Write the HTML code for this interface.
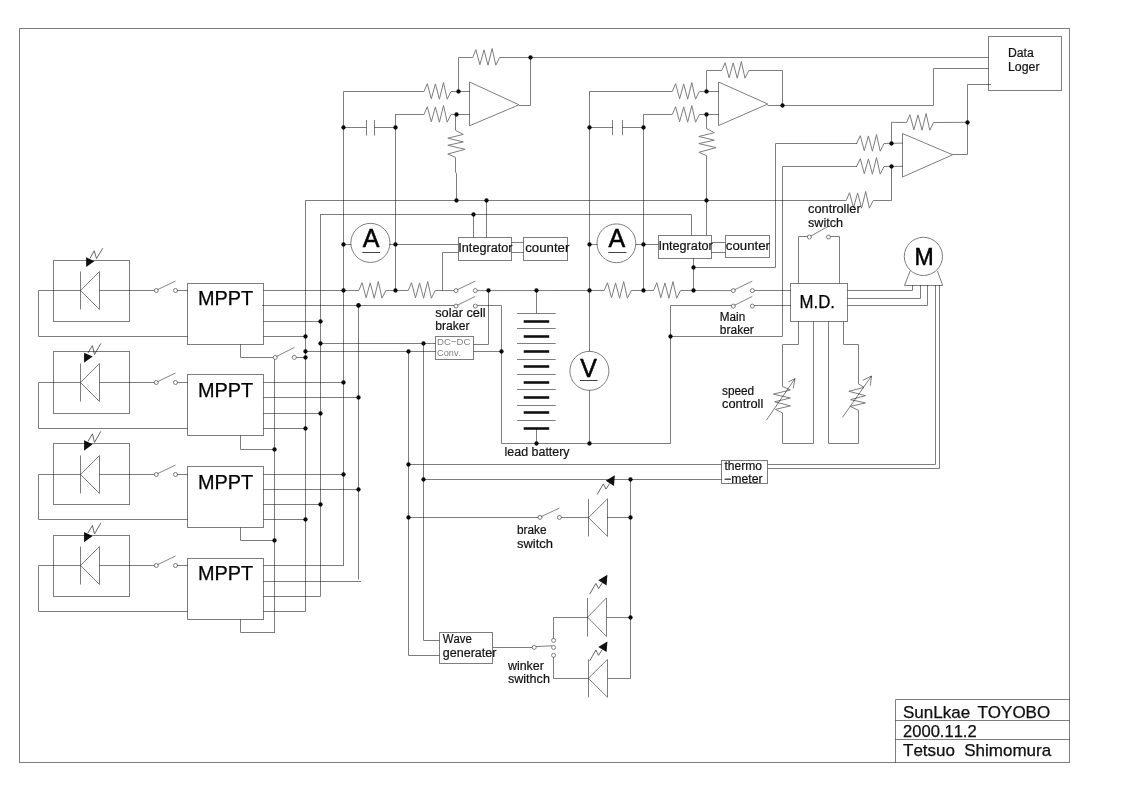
<!DOCTYPE html>
<html lang="en"><head><meta charset="utf-8"><title>SunLkae TOYOBO circuit diagram</title>
<style>html,body{margin:0;padding:0;background:#fff}svg{display:block;will-change:transform}g.w>*{mix-blend-mode:multiply}text{font-kerning:none}</style></head>
<body>
<svg width="1140" height="807" viewBox="0 0 1140 807">
<g class="w" fill="none" stroke="#7d7d7d" stroke-width="1">
<rect x="19.5" y="28.5" width="1050" height="734"/>
<polyline points="895.5,762.5 895.5,699.5 1069.5,699.5"/>
<line x1="895.5" y1="720.5" x2="1069.5" y2="720.5"/>
<line x1="895.5" y1="739.5" x2="1069.5" y2="739.5"/>
<rect x="988.5" y="36.5" width="73" height="54"/>
<rect x="53.5" y="260.5" width="76" height="61"/>
<polyline points="80.3,290.5 38.5,290.5 38.5,336.5 187.6,336.5"/>
<line x1="80.5" y1="271.5" x2="80.5" y2="309.5"/>
<polygon points="80.5,290.5 99.5,271.5 99.5,309.5"/>
<line x1="99.5" y1="290.5" x2="154.3" y2="290.5"/>
<circle cx="156.3" cy="290.5" r="2" fill="#fff" stroke="#6e6e6e" stroke-width="0.9"/>
<circle cx="175.5" cy="290.5" r="2" fill="#fff" stroke="#6e6e6e" stroke-width="0.9"/>
<line x1="157.5" y1="289.7" x2="175.5" y2="281" stroke="#6e6e6e" stroke-width="0.85"/>
<line x1="177.5" y1="290.5" x2="187.6" y2="290.5"/>
<polygon points="86.1,257.2 94.4,261.2 86.1,267.1" fill="#111" stroke="none"/>
<polyline points="90.1,258.2 94.2,250.8 96.5,258.6 102.8,248.2" stroke="#555" stroke-width="0.9"/>
<rect x="187.5" y="283.5" width="76" height="61"/>
<line x1="263.5" y1="290.5" x2="343.7" y2="290.5"/>
<line x1="262" y1="305.5" x2="359" y2="305.5"/>
<line x1="263.5" y1="321.5" x2="320.5" y2="321.5"/>
<line x1="263.5" y1="336.5" x2="305.4" y2="336.5"/>
<polyline points="240.5,344.5 240.5,357.5 273.2,357.5"/>
<rect x="53.5" y="351.5" width="76" height="62"/>
<polyline points="80.3,382.5 38.5,382.5 38.5,428.5 187.6,428.5"/>
<line x1="80.5" y1="363.5" x2="80.5" y2="401.5"/>
<polygon points="80.5,382.5 99.5,363.5 99.5,401.5"/>
<line x1="99.5" y1="382.5" x2="154.3" y2="382.5"/>
<circle cx="156.3" cy="382.5" r="2" fill="#fff" stroke="#6e6e6e" stroke-width="0.9"/>
<circle cx="175.5" cy="382.5" r="2" fill="#fff" stroke="#6e6e6e" stroke-width="0.9"/>
<line x1="157.5" y1="381.7" x2="175.5" y2="373" stroke="#6e6e6e" stroke-width="0.85"/>
<line x1="177.5" y1="382.5" x2="187.6" y2="382.5"/>
<polygon points="84.05,352.7 92.6,356.6 84.05,362.7" fill="#111" stroke="none"/>
<polyline points="87.9,353 92.4,345.6 94.5,354.5 100.9,343.4" stroke="#555" stroke-width="0.9"/>
<rect x="187.5" y="374.5" width="76" height="61"/>
<line x1="263.5" y1="382.5" x2="343.7" y2="382.5"/>
<line x1="263.5" y1="397.5" x2="359" y2="397.5"/>
<line x1="263.5" y1="413.5" x2="320.5" y2="413.5"/>
<line x1="263.5" y1="428.5" x2="305.4" y2="428.5"/>
<polyline points="240.5,435.5 240.5,449.5 275,449.5"/>
<rect x="53.5" y="443.5" width="76" height="61"/>
<polyline points="80.3,474.5 38.5,474.5 38.5,519.5 187.6,519.5"/>
<line x1="80.5" y1="455.5" x2="80.5" y2="493.5"/>
<polygon points="80.5,474.5 99.5,455.5 99.5,493.5"/>
<line x1="99.5" y1="474.5" x2="154.3" y2="474.5"/>
<circle cx="156.3" cy="474.5" r="2" fill="#fff" stroke="#6e6e6e" stroke-width="0.9"/>
<circle cx="175.5" cy="474.5" r="2" fill="#fff" stroke="#6e6e6e" stroke-width="0.9"/>
<line x1="157.5" y1="473.7" x2="175.5" y2="465" stroke="#6e6e6e" stroke-width="0.85"/>
<line x1="177.5" y1="474.5" x2="187.6" y2="474.5"/>
<polygon points="84.05,440.2 92.6,444.3 84.05,450.8" fill="#111" stroke="none"/>
<polyline points="87.9,441.5 92.4,433.9 94.5,442.4 100.9,431.3" stroke="#555" stroke-width="0.9"/>
<rect x="187.5" y="466.5" width="76" height="61"/>
<line x1="263.5" y1="474.5" x2="343.7" y2="474.5"/>
<line x1="263.5" y1="489.5" x2="359" y2="489.5"/>
<line x1="263.5" y1="504.5" x2="320.5" y2="504.5"/>
<line x1="263.5" y1="519.5" x2="305.4" y2="519.5"/>
<polyline points="240.5,527.5 240.5,540.5 275,540.5"/>
<rect x="53.5" y="535.5" width="76" height="61"/>
<polyline points="80.3,565.5 38.5,565.5 38.5,611.5 187.6,611.5"/>
<line x1="80.5" y1="546.5" x2="80.5" y2="584.5"/>
<polygon points="80.5,565.5 99.5,546.5 99.5,584.5"/>
<line x1="99.5" y1="565.5" x2="154.3" y2="565.5"/>
<circle cx="156.3" cy="565.5" r="2" fill="#fff" stroke="#6e6e6e" stroke-width="0.9"/>
<circle cx="175.5" cy="565.5" r="2" fill="#fff" stroke="#6e6e6e" stroke-width="0.9"/>
<line x1="157.5" y1="564.7" x2="175.5" y2="556" stroke="#6e6e6e" stroke-width="0.85"/>
<line x1="177.5" y1="565.5" x2="187.6" y2="565.5"/>
<polygon points="84.05,532.1 92.6,536.1 84.05,542.3" fill="#111" stroke="none"/>
<polyline points="87.9,533 92.4,525.5 94.5,533.9 100.9,522.9" stroke="#555" stroke-width="0.9"/>
<rect x="187.5" y="558.5" width="76" height="61"/>
<line x1="263.5" y1="565.5" x2="343.7" y2="565.5"/>
<line x1="263.5" y1="581.5" x2="361" y2="581.5"/>
<line x1="263.5" y1="596.5" x2="320.5" y2="596.5"/>
<line x1="263.5" y1="611.5" x2="305.4" y2="611.5"/>
<polyline points="240.5,619.5 240.5,632.5 275,632.5"/>
<line x1="274.5" y1="359.4" x2="274.5" y2="632.3"/>
<line x1="305.5" y1="200.5" x2="305.5" y2="611.6"/>
<line x1="320.5" y1="214.3" x2="320.5" y2="596.2"/>
<line x1="343.5" y1="91.5" x2="343.5" y2="565.5"/>
<line x1="358.5" y1="305.5" x2="358.5" y2="579.5"/>
<circle cx="275.2" cy="357.4" r="2" fill="#fff" stroke="#6e6e6e" stroke-width="0.9"/>
<circle cx="294.3" cy="357.4" r="2" fill="#fff" stroke="#6e6e6e" stroke-width="0.9"/>
<line x1="276.4" y1="356.6" x2="294.3" y2="347.4" stroke="#6e6e6e" stroke-width="0.85"/>
<line x1="296.3" y1="357.5" x2="305.4" y2="357.5"/>
<line x1="320.5" y1="343.5" x2="435.5" y2="343.5"/>
<line x1="305.4" y1="351.5" x2="435.5" y2="351.5"/>
<rect x="435.5" y="336.5" width="38" height="23"/>
<polyline points="473.5,344.5 488.5,344.5 488.5,290.6"/>
<line x1="473.5" y1="351.5" x2="502" y2="351.5"/>
<polyline points="305.4,200.5 846.2,200.5 849.5,192.7 853.5,207.8 857.6,192.9 861.6,208.2 865.7,191.5 869.4,208.2 873.2,200.5 891.5,200.5"/>
<line x1="891.5" y1="200.5" x2="891.5" y2="166.3"/>
<polyline points="320.5,214.5 691.5,214.5 691.5,235.4"/>
<line x1="473.5" y1="214.3" x2="473.5" y2="237.1"/>
<line x1="486.5" y1="200.5" x2="486.5" y2="237.1"/>
<polyline points="343.7,290.6 358.8,290.5 362.1,282.7 366.1,297.8 370.2,282.9 374.2,298.2 378.3,281.5 382,298.2 385.8,290.5 408.2,290.5 411.5,282.7 415.5,297.8 419.6,282.9 423.6,298.2 427.7,281.5 431.4,298.2 435.2,290.5 454,290.6"/>
<circle cx="456" cy="290.6" r="2" fill="#fff" stroke="#6e6e6e" stroke-width="0.9"/>
<circle cx="475.3" cy="290.6" r="2" fill="#fff" stroke="#6e6e6e" stroke-width="0.9"/>
<line x1="457.2" y1="289.8" x2="475.3" y2="281.1" stroke="#6e6e6e" stroke-width="0.85"/>
<polyline points="477.3,290.6 604.2,290.5 607.5,282.7 611.5,297.8 615.6,282.9 619.6,298.2 623.7,281.5 627.4,298.2 631.2,290.5 653.5,290.5 656.8,282.7 660.8,297.8 664.9,282.9 668.9,298.2 673,281.5 676.7,298.2 680.5,290.5 731.3,290.6"/>
<circle cx="733.3" cy="290.6" r="2" fill="#fff" stroke="#6e6e6e" stroke-width="0.9"/>
<circle cx="752.3" cy="290.6" r="2" fill="#fff" stroke="#6e6e6e" stroke-width="0.9"/>
<line x1="734.5" y1="289.8" x2="752.3" y2="281.1" stroke="#6e6e6e" stroke-width="0.85"/>
<line x1="754.3" y1="290.5" x2="790.5" y2="290.5"/>
<line x1="359" y1="305.5" x2="454" y2="305.5"/>
<circle cx="456" cy="306.1" r="2" fill="#fff" stroke="#6e6e6e" stroke-width="0.9"/>
<circle cx="475.3" cy="306.1" r="2" fill="#fff" stroke="#6e6e6e" stroke-width="0.9"/>
<line x1="457.2" y1="305.3" x2="475.3" y2="296.4" stroke="#6e6e6e" stroke-width="0.85"/>
<polyline points="477.3,305.5 501.5,305.5 501.5,443.5 670.5,443.5 670.5,305.5 731.3,305.5"/>
<circle cx="733.3" cy="306.1" r="2" fill="#fff" stroke="#6e6e6e" stroke-width="0.9"/>
<circle cx="752.3" cy="306.1" r="2" fill="#fff" stroke="#6e6e6e" stroke-width="0.9"/>
<line x1="734.5" y1="305.3" x2="752.3" y2="296.4" stroke="#6e6e6e" stroke-width="0.85"/>
<line x1="754.3" y1="305.5" x2="790.5" y2="305.5"/>
<polyline points="670.6,336.5 782.5,336.5 782.5,166.5 857,166.5"/>
<line x1="395.5" y1="114.5" x2="395.5" y2="290.6"/>
<circle cx="370.4" cy="242.9" r="19.55" fill="#fff"/>
<line x1="343.7" y1="244.5" x2="351" y2="244.5"/>
<line x1="389.4" y1="244.5" x2="458.4" y2="244.5"/>
<line x1="362.3" y1="252.5" x2="380" y2="252.5" stroke="#444"/>
<polyline points="442.5,290.6 442.5,252.5 458.4,252.5"/>
<rect x="458.5" y="237.5" width="53" height="23"/>
<rect x="523.5" y="237.5" width="44" height="23"/>
<line x1="511.7" y1="242.5" x2="523.5" y2="242.5"/>
<line x1="511.7" y1="252.5" x2="523.5" y2="252.5"/>
<polygon points="469.5,82 469.5,125.8 519,104.8"/>
<polyline points="343.7,91.5 424,91.5 427.3,83.7 431.3,98.8 435.4,83.9 439.4,99.2 443.5,82.5 447.2,99.2 451,91.5 469.6,91.5"/>
<polyline points="395.2,114.5 424,114.5 427.3,106.7 431.3,121.8 435.4,106.9 439.4,122.2 443.5,105.5 447.2,122.2 451,114.5 469.6,114.5"/>
<polyline points="458.5,91.5 458.5,57.5 472.6,57.5 475.9,49.7 479.9,64.8 484,49.9 488,65.2 492.1,48.5 495.8,65.2 499.6,57.5 988.5,57.5"/>
<polyline points="519,105.5 530.5,105.5 530.5,57.5"/>
<polyline points="455.5,114.5 455.5,130.3 463.3,134.4 447.8,138.2 463.3,141.9 447.8,145.3 465.1,149.3 447.8,154 455.5,157.4 455.5,172 456.5,173.5 456.5,200.5"/>
<line x1="343.7" y1="127.5" x2="366.3" y2="127.5"/>
<line x1="374.5" y1="127.5" x2="395.2" y2="127.5"/>
<line x1="366.5" y1="120" x2="366.5" y2="135.5"/>
<line x1="374.5" y1="120" x2="374.5" y2="135.5"/>
<line x1="589.5" y1="91.5" x2="589.5" y2="351.5"/>
<line x1="589.5" y1="390.1" x2="589.5" y2="443.3"/>
<line x1="643.5" y1="114.5" x2="643.5" y2="290.6"/>
<polygon points="718.5,82 718.5,125.6 767.8,104"/>
<polyline points="589.6,91.5 672.3,91.5 675.6,83.7 679.6,98.8 683.7,83.9 687.7,99.2 691.8,82.5 695.5,99.2 699.3,91.5 718.6,91.5"/>
<polyline points="643.5,114.5 672.3,114.5 675.6,106.7 679.6,121.8 683.7,106.9 687.7,122.2 691.8,105.5 695.5,122.2 699.3,114.5 718.6,114.5"/>
<polyline points="706.5,91.5 706.5,70.5 721.8,70.5 725.1,62.7 729.1,77.8 733.2,62.9 737.2,78.2 741.3,61.5 745,78.2 748.8,70.5 782.5,70.5 782.5,105.5"/>
<polyline points="767.5,105.5 933.5,105.5 933.5,68.5 988.5,68.5"/>
<polyline points="706.5,114.5 706.5,128.6 714.3,132.7 698.8,136.5 714.3,140.2 698.8,143.6 716.1,147.6 698.8,152.3 706.5,155.7 706.5,235.4"/>
<line x1="589.6" y1="127.5" x2="612.8" y2="127.5"/>
<line x1="622.5" y1="127.5" x2="643.5" y2="127.5"/>
<line x1="612.5" y1="120" x2="612.5" y2="135.2"/>
<line x1="622.5" y1="120" x2="622.5" y2="135.2"/>
<circle cx="616.4" cy="243.3" r="19.4" fill="#fff"/>
<line x1="589.6" y1="244.5" x2="597.3" y2="244.5"/>
<line x1="635.9" y1="244.5" x2="658.5" y2="244.5"/>
<line x1="608.3" y1="252.5" x2="626.5" y2="252.5" stroke="#444"/>
<rect x="658.5" y="235.5" width="53" height="23"/>
<rect x="725.5" y="235.5" width="44" height="22"/>
<line x1="711.6" y1="242.5" x2="725.3" y2="242.5"/>
<line x1="711.6" y1="252.5" x2="725.3" y2="252.5"/>
<line x1="693.5" y1="258.2" x2="693.5" y2="290.6"/>
<polyline points="693.3,267.5 775.5,267.5 775.5,143.5 857,143.5"/>
<circle cx="589.4" cy="370.85" r="19.5" fill="#fff"/>
<line x1="580" y1="380.5" x2="597.6" y2="380.5" stroke="#444"/>
<polygon points="902.5,133.5 902.5,177 952.6,154.8"/>
<polyline points="856.5,143.1 856.5,143.5 860.3,135.7 864.3,150.8 868.4,135.9 872.4,151.2 876.5,134.5 880.2,151.2 884,143.5 902.5,143.1"/>
<polyline points="856.5,166.3 856.5,166.5 860.3,158.7 864.3,173.8 868.4,158.9 872.4,174.2 876.5,157.5 880.2,174.2 884,166.5 902.5,166.3"/>
<polyline points="891.5,143.1 891.5,122.3 906.6,122.5 909.9,114.7 913.9,129.8 918,114.9 922,130.2 926.1,113.5 929.8,130.2 933.6,122.5 967.8,122.3"/>
<polyline points="952.6,154.5 967.5,154.5 967.5,84.5 991,84.5"/>
<line x1="536.5" y1="290.6" x2="536.5" y2="313.2"/>
<line x1="517" y1="313.5" x2="555.7" y2="313.5"/>
<line x1="523.7" y1="321.5" x2="549.2" y2="321.5" stroke="#111" stroke-width="2.6"/>
<line x1="517" y1="328.5" x2="555.7" y2="328.5"/>
<line x1="523.7" y1="336.5" x2="549.2" y2="336.5" stroke="#111" stroke-width="2.6"/>
<line x1="517" y1="343.5" x2="555.7" y2="343.5"/>
<line x1="523.7" y1="351.5" x2="549.2" y2="351.5" stroke="#111" stroke-width="2.6"/>
<line x1="517" y1="359.5" x2="555.7" y2="359.5"/>
<line x1="523.7" y1="366.5" x2="549.2" y2="366.5" stroke="#111" stroke-width="2.6"/>
<line x1="517" y1="374.5" x2="555.7" y2="374.5"/>
<line x1="523.7" y1="382.5" x2="549.2" y2="382.5" stroke="#111" stroke-width="2.6"/>
<line x1="517" y1="389.5" x2="555.7" y2="389.5"/>
<line x1="523.7" y1="397.5" x2="549.2" y2="397.5" stroke="#111" stroke-width="2.6"/>
<line x1="517" y1="405.5" x2="555.7" y2="405.5"/>
<line x1="523.7" y1="412.5" x2="549.2" y2="412.5" stroke="#111" stroke-width="2.6"/>
<line x1="517" y1="420.5" x2="555.7" y2="420.5"/>
<line x1="523.7" y1="428.5" x2="549.2" y2="428.5" stroke="#111" stroke-width="2.6"/>
<line x1="536.5" y1="428.2" x2="536.5" y2="443.3"/>
<rect x="790.5" y="283.5" width="57" height="38"/>
<circle cx="923.4" cy="256.4" r="19.1" fill="#fff"/>
<polyline points="910.1,271 904.5,285.5 942.7,285.5 937.4,271"/>
<polyline points="847.6,290.5 912.5,290.5 912.5,285.1"/>
<polyline points="847.6,298.5 920.5,298.5 920.5,285.1"/>
<polyline points="847.6,305.5 927.5,305.5 927.5,285.1"/>
<polyline points="935.5,285.1 935.5,464.5 767.7,464.5"/>
<polyline points="939.5,285.1 939.5,468.5 767.7,468.5"/>
<circle cx="809.4" cy="237" r="2" fill="#fff" stroke="#6e6e6e" stroke-width="0.9"/>
<circle cx="828.5" cy="237" r="2" fill="#fff" stroke="#6e6e6e" stroke-width="0.9"/>
<line x1="810.6" y1="236.2" x2="828.5" y2="226.2" stroke="#6e6e6e" stroke-width="0.85"/>
<polyline points="807.4,236.5 798.5,236.5 798.5,283.2"/>
<polyline points="830.5,236.5 839.5,236.5 839.5,283.2"/>
<polyline points="798.5,321.6 798.5,344.5 782.5,344.5 782.5,386.5 790.4,390 773.3,394.1 790.4,398 774.6,401.8 790.4,405.9 775.4,409.4 782.5,412.9 782.5,443.5 813.5,443.5 813.5,321.6"/>
<polyline points="843.5,321.6 843.5,344.5 858.5,344.5 858.5,383.9 864,387.4 848.8,391.3 865.5,395.7 850.5,399.7 865.5,402.9 850.2,406.4 858.5,410.3 858.5,443.5 828.5,443.5 828.5,321.6"/>
<line x1="766.3" y1="420.3" x2="795" y2="378.6"/>
<polyline points="788.5,381.8 795,378.6 793.2,388.3"/>
<line x1="842.5" y1="417.3" x2="871.5" y2="376"/>
<polyline points="862.7,380.4 871.5,376 870.3,385.6"/>
<rect x="721.5" y="460.5" width="46" height="23"/>
<polyline points="408.5,351.4 408.5,655.5 439.3,655.5"/>
<polyline points="423.5,343.9 423.5,640.5 439.3,640.5"/>
<line x1="408.5" y1="464.5" x2="721.6" y2="464.5"/>
<line x1="423.5" y1="479.5" x2="721.6" y2="479.5"/>
<line x1="408.5" y1="517.5" x2="538" y2="517.5"/>
<circle cx="540" cy="517.4" r="2" fill="#fff" stroke="#6e6e6e" stroke-width="0.9"/>
<circle cx="559.4" cy="517.4" r="2" fill="#fff" stroke="#6e6e6e" stroke-width="0.9"/>
<line x1="541.2" y1="516.6" x2="559.4" y2="508.1" stroke="#6e6e6e" stroke-width="0.85"/>
<line x1="561.4" y1="517.5" x2="588.5" y2="517.5"/>
<line x1="630.5" y1="479.6" x2="630.5" y2="678.2"/>
<line x1="588.5" y1="498.8" x2="588.5" y2="536.4"/>
<polygon points="588.5,517.6 607.5,498.8 607.5,536.4"/>
<line x1="607.1" y1="517.5" x2="630.5" y2="517.5"/>
<line x1="587.5" y1="597.9" x2="587.5" y2="636.5"/>
<polygon points="587.6,617.2 606.5,597.9 606.5,636.5"/>
<line x1="606.8" y1="617.5" x2="630.5" y2="617.5"/>
<line x1="588.5" y1="659.3" x2="588.5" y2="697.3"/>
<polygon points="588.4,678.3 607.5,659.3 607.5,697.3"/>
<line x1="607.7" y1="678.5" x2="630.5" y2="678.5"/>
<polygon points="614.8,475.3 614,485.9 605.7,480.8" fill="#111" stroke="none"/>
<polyline points="597.1,494.6 603.3,483.9 606,489.1 609.5,483.6" stroke="#555" stroke-width="0.9"/>
<polygon points="607.4,574.8 606.6,585.4 598.3,580.3" fill="#111" stroke="none"/>
<polyline points="589.7,594.1 595.9,583.4 598.6,588.6 602.1,583.1" stroke="#555" stroke-width="0.9"/>
<polygon points="607.4,641.5 606.6,652.1 598.3,647" fill="#111" stroke="none"/>
<polyline points="589.7,660.8 595.9,650.1 598.6,655.3 602.1,649.8" stroke="#555" stroke-width="0.9"/>
<rect x="439.5" y="632.5" width="53" height="31"/>
<line x1="492.9" y1="647.5" x2="532.2" y2="647.5"/>
<circle cx="534.2" cy="647.4" r="2" fill="#fff"/>
<line x1="536.2" y1="646.6" x2="552" y2="645.8"/>
<circle cx="553.6" cy="640.4" r="2" fill="#fff"/>
<circle cx="553.6" cy="647.4" r="2" fill="#fff"/>
<circle cx="553.6" cy="655.3" r="2" fill="#fff"/>
<polyline points="553.5,638.4 553.5,617.5 587.6,617.5"/>
<polyline points="553.5,657.3 553.5,678.5 588.4,678.5"/>
</g>
<g fill="#0a0a0a" stroke="none">
<circle cx="358.5" cy="305.5" r="2.15"/>
<circle cx="320.5" cy="321.5" r="2.15"/>
<circle cx="305.5" cy="336.5" r="2.15"/>
<circle cx="343.5" cy="382.5" r="2.15"/>
<circle cx="358.5" cy="397.5" r="2.15"/>
<circle cx="320.5" cy="413.5" r="2.15"/>
<circle cx="305.5" cy="428.5" r="2.15"/>
<circle cx="274.5" cy="449.5" r="2.15"/>
<circle cx="343.5" cy="474.5" r="2.15"/>
<circle cx="358.5" cy="489.5" r="2.15"/>
<circle cx="320.5" cy="504.5" r="2.15"/>
<circle cx="305.5" cy="519.5" r="2.15"/>
<circle cx="274.5" cy="540.5" r="2.15"/>
<circle cx="358.5" cy="305.5" r="2.15"/>
<circle cx="305.5" cy="357.5" r="2.15"/>
<circle cx="320.5" cy="343.5" r="2.15"/>
<circle cx="423.5" cy="343.5" r="2.15"/>
<circle cx="305.5" cy="351.5" r="2.15"/>
<circle cx="408.5" cy="351.5" r="2.15"/>
<circle cx="501.5" cy="351.5" r="2.15"/>
<circle cx="456.5" cy="200.5" r="2.15"/>
<circle cx="486.5" cy="200.5" r="2.15"/>
<circle cx="706.5" cy="200.5" r="2.15"/>
<circle cx="473.5" cy="214.5" r="2.15"/>
<circle cx="343.5" cy="290.5" r="2.15"/>
<circle cx="395.5" cy="290.5" r="2.15"/>
<circle cx="488.5" cy="290.5" r="2.15"/>
<circle cx="536.5" cy="290.5" r="2.15"/>
<circle cx="589.5" cy="290.5" r="2.15"/>
<circle cx="643.5" cy="290.5" r="2.15"/>
<circle cx="693.5" cy="290.5" r="2.15"/>
<circle cx="670.5" cy="336.5" r="2.15"/>
<circle cx="536.5" cy="443.5" r="2.15"/>
<circle cx="589.5" cy="443.5" r="2.15"/>
<circle cx="343.5" cy="244.5" r="2.15"/>
<circle cx="395.5" cy="244.5" r="2.15"/>
<circle cx="458.5" cy="91.5" r="2.15"/>
<circle cx="456.5" cy="114.5" r="2.15"/>
<circle cx="530.5" cy="57.5" r="2.15"/>
<circle cx="343.5" cy="127.5" r="2.15"/>
<circle cx="395.5" cy="127.5" r="2.15"/>
<circle cx="706.5" cy="91.5" r="2.15"/>
<circle cx="706.5" cy="114.5" r="2.15"/>
<circle cx="782.5" cy="105.5" r="2.15"/>
<circle cx="589.5" cy="127.5" r="2.15"/>
<circle cx="643.5" cy="127.5" r="2.15"/>
<circle cx="589.5" cy="244.5" r="2.15"/>
<circle cx="643.5" cy="244.5" r="2.15"/>
<circle cx="693.5" cy="267.5" r="2.15"/>
<circle cx="891.5" cy="143.5" r="2.15"/>
<circle cx="891.5" cy="166.5" r="2.15"/>
<circle cx="967.5" cy="122.5" r="2.15"/>
<circle cx="408.5" cy="464.5" r="2.15"/>
<circle cx="423.5" cy="479.5" r="2.15"/>
<circle cx="630.5" cy="479.5" r="2.15"/>
<circle cx="408.5" cy="517.5" r="2.15"/>
<circle cx="630.5" cy="517.5" r="2.15"/>
<circle cx="630.5" cy="617.5" r="2.15"/>
</g>
<g font-family="'Liberation Sans', sans-serif" fill="#111">
<text x="903" y="718.1" font-size="17" stroke="#000" stroke-width="0.25" word-spacing="2.6">SunLkae TOYOBO</text>
<text x="903" y="736.7" font-size="17" textLength="73.7" lengthAdjust="spacingAndGlyphs" stroke="#000" stroke-width="0.25">2000.11.2</text>
<text x="903" y="755.9" font-size="17" stroke="#000" stroke-width="0.25" word-spacing="4.5">Tetsuo Shimomura</text>
<text x="1008" y="56.9" font-size="12" textLength="25.8" lengthAdjust="spacingAndGlyphs" stroke="#111" stroke-width="0.2">Data</text>
<text x="1008" y="70.6" font-size="12" textLength="31.5" lengthAdjust="spacingAndGlyphs" stroke="#111" stroke-width="0.2">Loger</text>
<text x="198" y="304.6" font-size="19.5" textLength="55.2" lengthAdjust="spacingAndGlyphs" fill="#000" stroke="#000" stroke-width="0.25">MPPT</text>
<text x="198" y="396.6" font-size="19.5" textLength="55.2" lengthAdjust="spacingAndGlyphs" fill="#000" stroke="#000" stroke-width="0.25">MPPT</text>
<text x="198" y="488.6" font-size="19.5" textLength="55.2" lengthAdjust="spacingAndGlyphs" fill="#000" stroke="#000" stroke-width="0.25">MPPT</text>
<text x="198" y="579.6" font-size="19.5" textLength="55.2" lengthAdjust="spacingAndGlyphs" fill="#000" stroke="#000" stroke-width="0.25">MPPT</text>
<text x="437.1" y="345.1" font-size="9.3" textLength="33.2" lengthAdjust="spacingAndGlyphs" fill="#808080">DC−DC</text>
<text x="437.1" y="356.2" font-size="9.3" textLength="24" lengthAdjust="spacingAndGlyphs" fill="#808080">Conv.</text>
<text x="371" y="247.2" font-size="25" text-anchor="middle" fill="#000" stroke="#000" stroke-width="0.5">A</text>
<text x="458.3" y="251.9" font-size="12" textLength="54.3" lengthAdjust="spacingAndGlyphs" stroke="#111" stroke-width="0.2">Integrator</text>
<text x="525.2" y="251.9" font-size="12" textLength="44.2" lengthAdjust="spacingAndGlyphs" stroke="#111" stroke-width="0.2">counter</text>
<text x="616.9" y="247.2" font-size="25" text-anchor="middle" fill="#000" stroke="#000" stroke-width="0.5">A</text>
<text x="658.4" y="250.1" font-size="12" textLength="54.3" lengthAdjust="spacingAndGlyphs" stroke="#111" stroke-width="0.2">Integrator</text>
<text x="725.8" y="250.1" font-size="12" textLength="44.2" lengthAdjust="spacingAndGlyphs" stroke="#111" stroke-width="0.2">counter</text>
<text x="588.6" y="377.1" font-size="25" text-anchor="middle" fill="#000" stroke="#000" stroke-width="0.5">V</text>
<text x="504.6" y="455.9" font-size="12" textLength="65" lengthAdjust="spacingAndGlyphs" stroke="#111" stroke-width="0.2">lead battery</text>
<text x="435.2" y="316.5" font-size="12" textLength="50.5" lengthAdjust="spacingAndGlyphs" stroke="#111" stroke-width="0.2">solar cell</text>
<text x="435.2" y="329.7" font-size="12" textLength="34.3" lengthAdjust="spacingAndGlyphs" stroke="#111" stroke-width="0.2">braker</text>
<text x="719.8" y="320.6" font-size="12" textLength="25.4" lengthAdjust="spacingAndGlyphs" stroke="#111" stroke-width="0.2">Main</text>
<text x="719.8" y="333.9" font-size="12" textLength="34" lengthAdjust="spacingAndGlyphs" stroke="#111" stroke-width="0.2">braker</text>
<text x="799.6" y="307.9" font-size="18" textLength="35.4" lengthAdjust="spacingAndGlyphs" fill="#000" stroke="#000" stroke-width="0.25">M.D.</text>
<text x="914.4" y="264.6" font-size="24.3" textLength="19.2" lengthAdjust="spacingAndGlyphs" fill="#000" stroke="#000" stroke-width="0.5">M</text>
<text x="808" y="213.2" font-size="12" textLength="52.7" lengthAdjust="spacingAndGlyphs" stroke="#111" stroke-width="0.2">controller</text>
<text x="808" y="226.7" font-size="12" textLength="35" lengthAdjust="spacingAndGlyphs" stroke="#111" stroke-width="0.2">switch</text>
<text x="722" y="395.1" font-size="12" textLength="32.2" lengthAdjust="spacingAndGlyphs" stroke="#111" stroke-width="0.2">speed</text>
<text x="722" y="407.9" font-size="12" textLength="41.3" lengthAdjust="spacingAndGlyphs" stroke="#111" stroke-width="0.2">controll</text>
<text x="724.4" y="469.9" font-size="12" textLength="37.6" lengthAdjust="spacingAndGlyphs" stroke="#111" stroke-width="0.2">thermo</text>
<text x="724" y="482.7" font-size="12" textLength="38.7" lengthAdjust="spacingAndGlyphs" stroke="#111" stroke-width="0.2">−meter</text>
<text x="517" y="534.4" font-size="12" textLength="29.6" lengthAdjust="spacingAndGlyphs" stroke="#111" stroke-width="0.2">brake</text>
<text x="517" y="547.6" font-size="12" textLength="36" lengthAdjust="spacingAndGlyphs" stroke="#111" stroke-width="0.2">switch</text>
<text x="442.8" y="643" font-size="12" textLength="29" lengthAdjust="spacingAndGlyphs" stroke="#111" stroke-width="0.2">Wave</text>
<text x="442.8" y="656.7" font-size="12" textLength="53.6" lengthAdjust="spacingAndGlyphs" stroke="#111" stroke-width="0.2">generater</text>
<text x="507.9" y="669.7" font-size="12" textLength="36" lengthAdjust="spacingAndGlyphs" stroke="#111" stroke-width="0.2">winker</text>
<text x="507.9" y="682.9" font-size="12" textLength="42" lengthAdjust="spacingAndGlyphs" stroke="#111" stroke-width="0.2">swithch</text>
</g>
</svg>
</body></html>
